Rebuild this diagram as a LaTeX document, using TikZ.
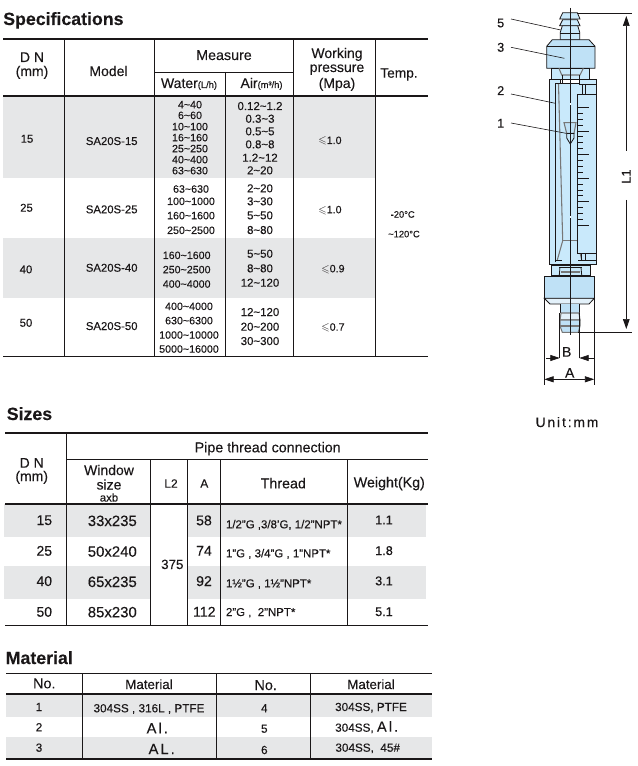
\documentclass[tikz,border=0pt]{standalone}
\usepackage{amssymb}
\usepackage{fontspec}
\setmainfont{Liberation Sans}[FakeBold=0.15]
\newfontfamily\spaced[LetterSpace=14,FakeBold=0.15]{Liberation Sans}
\usetikzlibrary{arrows.meta}
\definecolor{ink}{HTML}{1A1718}
\definecolor{rowgray}{HTML}{E6E7E8}
\definecolor{glass}{HTML}{C9E9FB}
\definecolor{metal}{HTML}{BFE1F6}
\definecolor{pale}{HTML}{E3F1FA}
\definecolor{edge}{HTML}{777777}
\tikzset{
  tc/.style={anchor=base,inner sep=0pt,text=ink},
  tl/.style={anchor=base west,inner sep=0pt,text=ink},
  thin rule/.style={draw=ink,line width=0.6pt},
  bold rule/.style={draw=ink,line width=1.3pt},
  vrule/.style={draw=ink,line width=0.7pt},
  part/.style={draw=ink,line width=0.6pt,fill=glass},
  headpart/.style={draw=ink,line width=0.6pt,fill=metal},
  inner/.style={draw=ink,line width=0.6pt},
  soft/.style={draw=edge,line width=0.8pt},
  leader/.style={draw=ink,line width=0.45pt},
  dim/.style={draw=ink,line width=0.55pt},
  dimtip/.style={-{Triangle[length=7.5pt,width=5pt]}},
  dimtipb/.style={-{Triangle[length=7pt,width=4.5pt]}},
  dimtips/.style={{Triangle[length=7pt,width=4.5pt]}-{Triangle[length=7pt,width=4.5pt]}},
}
\newcommand\ctx[5]{\node[tc,font=\fontsize{#4}{#4}\selectfont] (#1) at (#2,#3) {#5};}
\newcommand\ltx[5]{\node[tl,font=\fontsize{#4}{#4}\selectfont] (#1) at (#2,#3) {#5};}
\newcommand\leqs{\ensuremath{\leqslant}}
\begin{document}
\begin{tikzpicture}[x=0.75pt,y=-0.75pt]
\useasboundingbox (0,0) rectangle (637,766);
\fill[white] (0,0) rectangle (637,766);

% ---------- grey bands
\fill[rowgray] (3,96) rectangle (375.5,178);
\fill[rowgray] (3,238.3) rectangle (375.5,297.8);
\fill[rowgray] (4,504) rectangle (150.5,536.7);
\fill[rowgray] (187.5,504) rectangle (426,536.7);
\fill[rowgray] (4,566) rectangle (150.5,598.7);
\fill[rowgray] (187.5,566) rectangle (426,598.7);
\fill[rowgray] (6,694) rectangle (432,717);
\fill[rowgray] (6,737) rectangle (432,759);

% ---------- Specifications table
\ltx{hspec}{3}{25}{13.3}{\bfseries Specifications}
\foreach \vx in {64.5,154.5,293.5,375.5} \draw[vrule] (\vx,39) -- (\vx,356);
\draw[vrule] (225.5,72) -- (225.5,356);
\draw[bold rule] (3,39) -- (428,39);
\draw[thin rule] (154.5,72) -- (294,72);
\draw[bold rule] (3,96) -- (428,96);
\draw[thin rule] (3,356.3) -- (428,356.3);

\ctx{sdn}{32}{62}{10.5}{D N}
\ctx{smm}{32}{76}{10.5}{(mm)}
\ctx{smodel}{108.5}{76}{10.5}{Model}
\ctx{smeasure}{224}{60}{10.7}{Measure}
\ctx{swater}{189}{88}{10.5}{Water{\fontsize{7}{8}\selectfont(L/h)}}
\ctx{sair}{261.5}{88}{10.5}{Air{\fontsize{7}{8}\selectfont(m³/h)}}
\ctx{swork}{337}{58}{10.5}{Working}
\ctx{spress}{337}{72}{10.5}{pressure}
\ctx{smpa}{337}{88}{10.5}{(Mpa)}
\ctx{stemp}{399}{77.7}{10.3}{Temp.}

\ctx{d15}{27}{142.7}{8.5}{15}
\ctx{m15}{111.7}{145}{8.5}{SA20S-15}
\ctx{wa1}{190}{108.3}{8}{4\textasciitilde40}
\ctx{wa2}{190}{119}{8}{6\textasciitilde60}
\ctx{wa3}{190}{130.3}{8}{10\textasciitilde100}
\ctx{wa4}{190}{141.3}{8}{16\textasciitilde160}
\ctx{wa5}{190}{152.3}{8}{25\textasciitilde250}
\ctx{wa6}{190}{163.3}{8}{40\textasciitilde400}
\ctx{wa7}{190}{174.3}{8}{63\textasciitilde630}
\ctx{aa1}{260}{110}{8.6}{0.12\textasciitilde1.2}
\ctx{aa2}{260}{122.7}{8.6}{0.3\textasciitilde3}
\ctx{aa3}{260}{135.3}{8.6}{0.5\textasciitilde5}
\ctx{aa4}{260}{148.3}{8.6}{0.8\textasciitilde8}
\ctx{aa5}{260}{161.7}{8.6}{1.2\textasciitilde12}
\ctx{aa6}{260}{174.3}{8.6}{2\textasciitilde20}
\ctx{p15}{330}{144}{8}{\leqs 1.0}

\ctx{d25}{26.5}{211.7}{8.5}{25}
\ctx{m25}{111.7}{213.3}{8.5}{SA20S-25}
\ctx{wb1}{191}{192.7}{8}{63\textasciitilde630}
\ctx{wb2}{191}{205}{8}{100\textasciitilde1000}
\ctx{wb3}{191}{219.3}{8}{160\textasciitilde1600}
\ctx{wb4}{191}{234}{8}{250\textasciitilde2500}
\ctx{ab1}{260}{192.3}{8.6}{2\textasciitilde20}
\ctx{ab2}{260}{205.3}{8.6}{3\textasciitilde30}
\ctx{ab3}{260}{219.3}{8.6}{5\textasciitilde50}
\ctx{ab4}{260}{234}{8.6}{8\textasciitilde80}
\ctx{p25}{330}{213.3}{8}{\leqs 1.0}
\ctx{tlow}{402.7}{217.7}{7}{{\bfseries -}20°C}
\ctx{thigh}{404}{237.3}{7}{\textasciitilde120°C}

\ctx{d40}{26}{273.3}{8.5}{40}
\ctx{m40}{111.7}{271.7}{8.5}{SA20S-40}
\ctx{wc1}{186.7}{259}{8}{160\textasciitilde1600}
\ctx{wc2}{186.7}{273.3}{8}{250\textasciitilde2500}
\ctx{wc3}{186.7}{287.7}{8}{400\textasciitilde4000}
\ctx{ac1}{260}{257.7}{8.6}{5\textasciitilde50}
\ctx{ac2}{260}{272.3}{8.6}{8\textasciitilde80}
\ctx{ac3}{260}{286.7}{8.6}{12\textasciitilde120}
\ctx{p40}{333}{272.3}{8}{\leqs 0.9}

\ctx{d50}{26}{326.7}{8.5}{50}
\ctx{m50}{111.7}{330}{8.5}{SA20S-50}
\ctx{wd1}{189}{310}{8}{400\textasciitilde4000}
\ctx{wd2}{189}{324.3}{8}{630\textasciitilde6300}
\ctx{wd3}{189}{338.7}{8}{1000\textasciitilde10000}
\ctx{wd4}{189}{352.7}{8}{5000\textasciitilde16000}
\ctx{ad1}{260}{316}{8.6}{12\textasciitilde120}
\ctx{ad2}{260}{330.7}{8.6}{20\textasciitilde200}
\ctx{ad3}{260}{345}{8.6}{30\textasciitilde300}
\ctx{p50}{333}{330.7}{8}{\leqs 0.7}

% ---------- Sizes table
\ltx{hsize}{6.5}{420}{13.3}{\bfseries Sizes}
\draw[vrule] (66.5,433) -- (66.5,625.3);
\foreach \vx in {150.5,187.5,220.5,347.5} \draw[vrule] (\vx,459.5) -- (\vx,625.3);
\draw[bold rule] (5,433) -- (428,433);
\draw[thin rule] (66.5,459.5) -- (428,459.5);
\draw[bold rule] (5,504) -- (428,504);
\draw[thin rule] (5,625.3) -- (428,625.3);

\ctx{zdn}{31.7}{467.7}{10.5}{D N}
\ctx{zmm}{31.7}{481}{10.5}{(mm)}
\ctx{zpipe}{267.7}{452.3}{10.7}{Pipe thread connection}
\ctx{zwin}{109}{475}{10.5}{Window}
\ctx{zsiz}{109}{489.5}{10.5}{size}
\ctx{zaxb}{109}{501.5}{8.5}{axb}
\ctx{zl2}{171}{487.7}{9}{L2}
\ctx{za}{204.3}{487.7}{9}{A}
\ctx{zthr}{283.3}{488.3}{10.7}{Thread}
\ctx{zwt}{389.3}{487.3}{10.7}{Weight(Kg)}

\ctx{zd1}{44.3}{525}{10.5}{15}
\ctx{zw1}{112.3}{526}{11.2}{33x235}
\ctx{za1}{204}{525.3}{10.6}{58}
\ltx{zt1}{225.7}{528.3}{8.6}{1/2"G ,3/8'G, 1/2"NPT*}
\ctx{zk1}{384}{524.3}{9.5}{1.1}
\ctx{zd2}{44.3}{555.7}{10.5}{25}
\ctx{zw2}{112.3}{556.7}{11.2}{50x240}
\ctx{za2}{204}{555.7}{10.6}{74}
\ltx{zt2}{225.7}{557.3}{8.6}{1"G , 3/4"G , 1"NPT*}
\ctx{zk2}{384}{555}{9.5}{1.8}
\ctx{zl}{172.3}{569}{10}{375}
\ctx{zd3}{44.3}{586}{10.5}{40}
\ctx{zw3}{112.3}{587}{11.2}{65x235}
\ctx{za3}{204}{586}{10.6}{92}
\ltx{zt3}{225.7}{587.3}{8.6}{1½"G , 1½"NPT*}
\ctx{zk3}{384}{585.3}{9.5}{3.1}
\ctx{zd4}{44.3}{616.7}{10.5}{50}
\ctx{zw4}{112.3}{617.3}{11.2}{85x230}
\ctx{za4}{204.3}{616.7}{10.6}{112}
\ltx{zt4}{225.7}{616}{8.6}{2"G ,\ \ 2"NPT*}
\ctx{zk4}{384}{616}{9.5}{5.1}

% ---------- Material table
\ltx{hmat}{5.5}{664}{13.3}{\bfseries Material}
\foreach \vx in {82.5,216.5,310.5} \draw[vrule] (\vx,673.5) -- (\vx,759);
\draw[bold rule] (6,673.5) -- (432,673.5);
\draw[bold rule] (6,693.7) -- (432,693.7);
\draw[bold rule] (6,759.3) -- (432,759.3);

\ctx{mh1}{44.3}{688.3}{10.8}{No.}
\ctx{mh2}{149}{689}{10}{Material}
\ctx{mh3}{265.7}{690}{10.8}{No.}
\ctx{mh4}{371}{689}{10}{Material}
\ctx{mn1}{39}{711}{8.8}{1}
\ctx{mm1}{149}{712.3}{8.8}{304SS , 316L , PTFE}
\ctx{mn4}{264.3}{712.3}{8.8}{4}
\ctx{mm4}{371}{711}{8.8}{304SS, PTFE}
\ctx{mn2}{39}{731.3}{8.8}{2}
\ctx{mm2}{157.3}{733.3}{11}{{\spaced Al.}}
\ctx{mn5}{264.3}{732.7}{8.8}{5}
\ctx{mm5}{366.7}{731.7}{8.8}{304SS, {\fontsize{11}{11}\spaced Al.}}
\ctx{mn3}{39}{751.7}{8.8}{3}
\ctx{mm3}{161.7}{754}{11}{{\spaced AL.}}
\ctx{mn6}{264.3}{754}{8.8}{6}
\ctx{mm6}{367.7}{751.7}{8.8}{304SS,\ \ 45\#}

% ---------- Flowmeter drawing
% top barbs
\draw[part] (562.7,12.7) -- (577.3,12.7) -- (580,19) -- (559.7,19) -- cycle;
\draw[part] (562.7,19.7) -- (577.3,19.7) -- (580,25.7) -- (559.7,25.7) -- cycle;
\draw[part] (562.3,25.7) -- (577.7,25.7) -- (579.7,32.3) -- (579.7,39.7) -- (560.3,39.7) -- (560.3,32.3) -- cycle;
\draw[inner] (560.3,33.3) -- (579.7,33.3);
% head (part 3)
\draw[headpart] (552.3,39.7) -- (589,39.7) -- (595,46.3) -- (595,68.3) -- (546.7,68.3) -- (546.7,46.3) -- cycle;
\draw[inner] (546.7,46.3) -- (595,46.3);
% neck below head
\draw[part] (551.7,68.3) rectangle (589,79.3);
\draw[soft] (559,68.3) -- (561.7,75) -- (580,75) -- (583.3,68.3);
\draw[inner] (562,75) -- (562,83.3);
\draw[inner] (579.3,75) -- (579.3,83.3);
% main body
\draw[part] (549.3,79.3) -- (560,79.3) -- (560,83.3) -- (562.7,83.3) -- (579.3,83.3) -- (579.3,79.3) -- (596.7,79.3) -- (596.7,264.3) -- (549.3,264.3) -- cycle;
\draw[inner] (555.3,83.3) -- (562.7,83.3);
\draw[inner] (555.3,83.3) -- (555.3,262);
\draw[inner] (579.3,84) -- (596.7,84);
\draw[soft] (558.5,84) -- (562.7,240.7) -- (557.3,260);
\draw[soft] (562.7,240.7) -- (577.3,240.7);
\draw[soft] (577.3,240.7) -- (581.7,260);
\draw[inner] (582.3,84) -- (582.3,94.3);
\draw[inner] (585.7,84) -- (585.7,94.3);
% scale window
\draw[part] (577.3,94.3) rectangle (596.7,253.3);
\foreach \ty in {0,1,...,20} {
  \pgfmathsetmacro\tyy{107.3+5.9*\ty}
  \pgfmathsetmacro\tlen{mod(\ty,4)==0 ? 588.7 : 583}
  \draw[inner,line width=0.5pt] (577.3,\tyy) -- (\tlen,\tyy);
}
\draw[inner] (581,253.3) -- (581,260.7);
\draw[inner] (585,253.3) -- (585,260.7);
\draw[inner] (578,260.7) -- (596.7,260.7);
\draw[inner] (555.3,260.7) -- (562,260.7);
\draw[draw=ink,line width=0.9pt] (549.3,264.3) -- (596.7,264.3);
% float (part 1)
\draw[soft,fill=metal] (564,122.7) -- (576,122.7) -- (574,133.5) -- (566.7,133.5) -- cycle;
\draw[inner,fill=glass] (566.7,133.5) -- (574,133.5) -- (574,138) -- (570.3,144) -- (566.7,138) -- cycle;
% lower neck
\draw[part] (551.7,265) rectangle (590.7,275);
\draw[inner] (559.3,267.7) -- (581.7,267.7);
\draw[inner] (559.3,275) -- (559.9,267.7);
\draw[inner] (581.7,275) -- (581,267.7);
\draw[soft] (561,272) -- (580,272);
% lower flange
\draw[headpart] (544.3,276) rectangle (594.3,298.3);
\draw[draw=ink,line width=0.6pt,fill=pale] (544.3,298.3) -- (594.3,298.3) -- (589,304) -- (550,304) -- cycle;
% tail
\fill[metal] (560.7,304) rectangle (579,313);
\draw[inner] (560.7,304) -- (560.7,313);
\draw[inner] (579,304) -- (579,313);
\draw[soft,fill=pale] (561,313) -- (579,313) -- (580,320) -- (560,320) -- cycle;
\draw[soft,fill=metal] (560,320) -- (580,320) -- (580,326) -- (578.3,332.3) -- (562.3,332.3) -- (560,326) -- cycle;
\draw[soft] (560,326) -- (580,326);
% axis
\draw[inner] (570.3,8) -- (570.3,335);
\draw[white,line width=0.7pt] (570.3,103) -- (570.3,105.5);
\draw[white,line width=0.7pt] (570.3,216) -- (570.3,218.5);

% part labels and leaders
\ctx{n5}{500.7}{27.3}{9.5}{5}
\ctx{n3}{500.7}{51.7}{9.5}{3}
\ctx{n2}{500.7}{95}{9.5}{2}
\ctx{n1}{500.7}{127.7}{9.5}{1}
\coordinate (p5a) at (511,19);   \coordinate (p5b) at (560.7,30);
\coordinate (p3a) at (511,47.3); \coordinate (p3b) at (564.3,58.3);
\coordinate (p2a) at (511,94);   \coordinate (p2b) at (555.3,103.3);
\coordinate (p1a) at (511,123);  \coordinate (p1b) at (566,133.3);
\draw[leader] (p5a) -- (p5b);
\draw[leader] (p3a) -- (p3b);
\draw[leader] (p2a) -- (p2b);
\draw[leader] (p1a) -- (p1b);

% L1 dimension
\coordinate (lup) at (626.3,151);
\coordinate (ldn) at (626.3,200);
\coordinate (ltip) at (626.3,16);
\coordinate (ltipb) at (626.3,329);
\draw[dim] (577.3,13) -- (631.7,13);
\draw[dim] (578,332.3) -- (631.7,332.3);
\draw[dim,dimtip] (lup) -- (ltip);
\draw[dim,dimtip] (ldn) -- (ltipb);
\node[anchor=center,inner sep=0pt,text=ink,rotate=90,font=\fontsize{9.5}{10}\selectfont] (L1) at (626.3,176.5) {L1};

% B dimension
\draw[dim] (559.7,313.3) -- (559.7,358);
\draw[dim] (579.3,313.3) -- (579.3,358);
\coordinate (bl) at (546,358);
\coordinate (bc) at (559.7,358);
\coordinate (br) at (594.3,358);
\coordinate (bd) at (579.3,358);
\draw[dim,dimtipb] (bl) -- (bc);
\draw[dim,dimtipb] (br) -- (bd);
\ctx{dB}{566.7}{356.7}{10.5}{B}

% A dimension
\draw[dim] (544.3,298.3) -- (544.3,385);
\draw[dim] (594.3,298.3) -- (594.3,385);
\coordinate (al) at (544.3,379.3);
\coordinate (ar) at (594.3,379.3);
\draw[dim,dimtips] (al) -- (ar);
\ctx{dA}{569.7}{377.7}{10.5}{A}

% unit
\node[tc,font=\fontsize{10.3}{10}\spaced] (unit) at (567,427) {Unit:mm};
\end{tikzpicture}
\end{document}
